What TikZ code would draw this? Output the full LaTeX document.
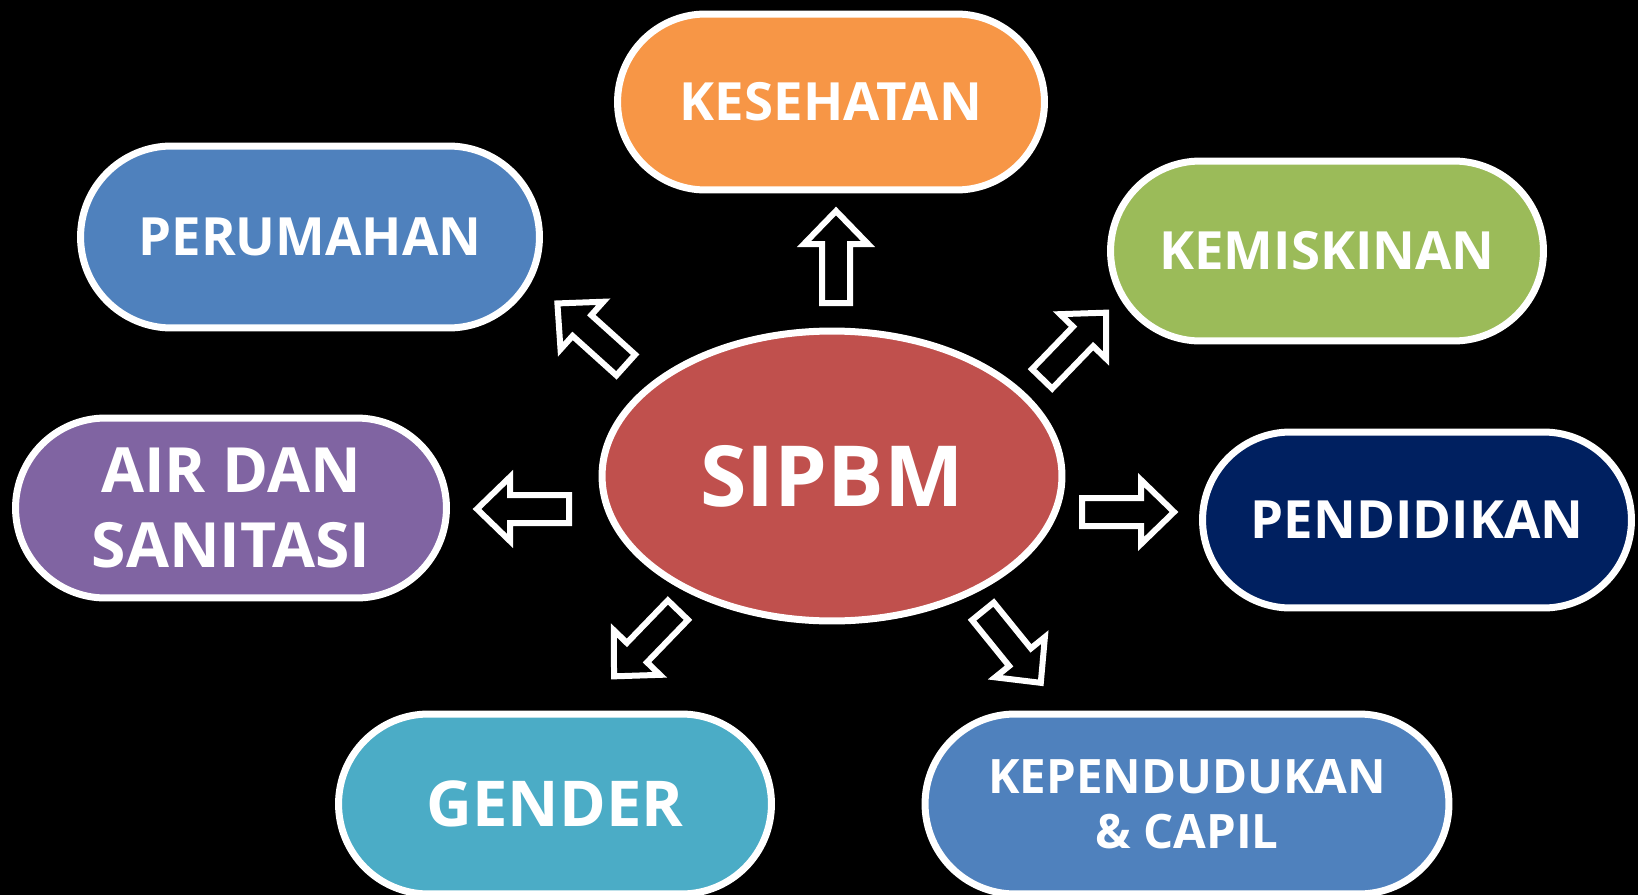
\documentclass[tikz,border=0pt]{standalone}
\usepackage{fontspec}
\setmainfont{Open Sans}
\usetikzlibrary{shapes.misc,shapes.geometric}

\definecolor{kesorange}{HTML}{F79646}
\definecolor{perblue}{HTML}{4F81BD}
\definecolor{kemgreen}{HTML}{9BBB59}
\definecolor{airpurple}{HTML}{8064A2}
\definecolor{pennavy}{HTML}{002060}
\definecolor{gencyan}{HTML}{4BACC6}
\definecolor{hubred}{HTML}{C0504D}

\begin{document}
\begin{tikzpicture}[
  x=0.02cm, y=-0.02cm,
  pill/.style={rounded rectangle,draw=white,line width=0.14cm,text=white,align=center,
    minimum height=3.6cm,inner sep=0pt,font=\bfseries\fontsize{30}{36}\selectfont},
  hub/.style={ellipse,draw=white,line width=0.14cm,fill=hubred,text=white,
    minimum width=9.2cm,minimum height=5.8cm,font=\bfseries\fontsize{48}{56}\selectfont},
  blockarrow/.pic={
    \draw[white,line width=0.12cm,fill=black,line join=miter]
      (3,-14) -- (62,-14) -- (62,-32) -- (95,0) -- (62,32) -- (62,14) -- (3,14) -- cycle;
  }
]
\fill[black] (0,0) rectangle (1638,895);
\useasboundingbox (0,0) rectangle (1638,895);

% centre
\node[hub] (sipbm) at (832,476) {SIPBM};

% topics around it
\node[pill,fill=kesorange,minimum width=8.54cm,minimum height=3.52cm] (kes) at (831,102) {KESEHATAN};
\node[pill,fill=perblue,minimum width=9.18cm,minimum height=3.64cm] (per) at (310,237) {PERUMAHAN};
\node[pill,fill=kemgreen,minimum width=8.66cm] (kem) at (1327,251) {KEMISKINAN};
\node[pill,fill=airpurple,minimum width=8.62cm,font=\bfseries\fontsize{35.5}{42.5}\selectfont] (air) at (231,508) {AIR DAN\\SANITASI};
\node[pill,fill=pennavy,minimum width=8.58cm,minimum height=3.52cm] (pen) at (1417,520) {PENDIDIKAN};
\node[pill,fill=gencyan,minimum width=8.66cm,font=\bfseries\fontsize{36}{42}\selectfont] (gen) at (555,804) {GENDER};
\node[pill,fill=perblue,minimum width=10.48cm,font=\bfseries\fontsize{27}{31}\selectfont] (kep) at (1187,804) {KEPENDUDUKAN\\\& CAPIL};

% hollow arrows pointing outwards
\pic[rotate=90]  at (836,306) {blockarrow};
\pic[rotate=138] at (628,367) {blockarrow};
\pic[rotate=46]  at (1040,381) {blockarrow};
\pic[rotate=180] at (572,509) {blockarrow};
\pic[rotate=0]   at (1079,512) {blockarrow};
\pic[rotate=226] at (680,608) {blockarrow};
\pic[rotate=-51] at (981,609) {blockarrow};
\end{tikzpicture}
\end{document}
